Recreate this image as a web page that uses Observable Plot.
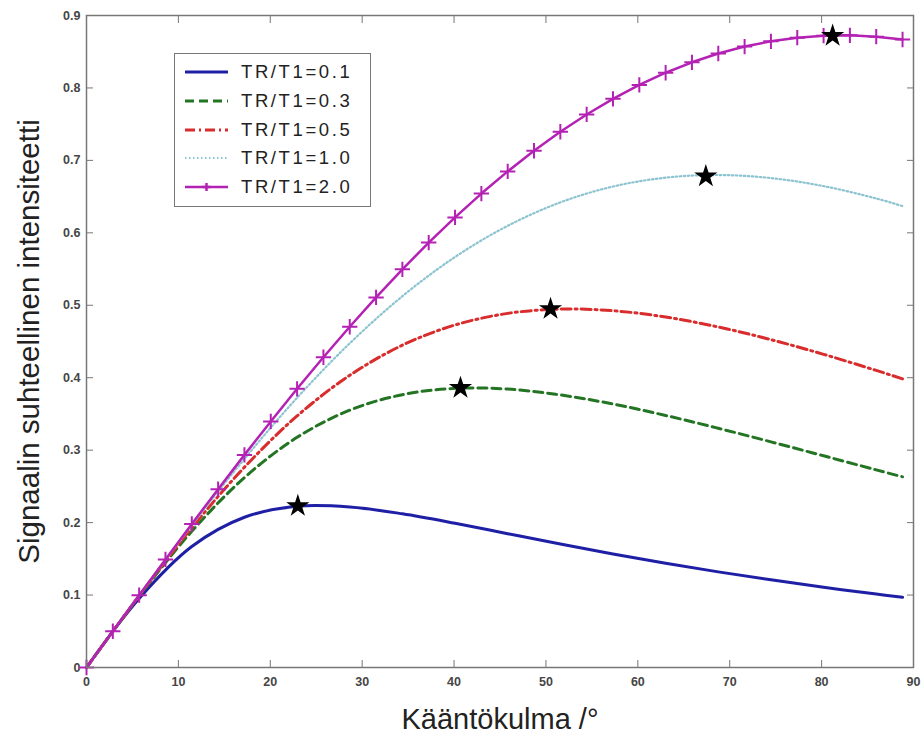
<!DOCTYPE html>
<html>
<head>
<meta charset="utf-8">
<script src="https://cdn.jsdelivr.net/npm/d3@7"></script>
<script src="https://cdn.jsdelivr.net/npm/@observablehq/plot@0.6"></script>
<style>
  body { margin: 0; background: white; }
  #wrap { position: relative; width: 922px; height: 742px; font-family: "Liberation Sans", Arial, sans-serif; }
  #legend { position: absolute; left: 174px; top: 53px; width: 195px; height: 148px; border: 1.5px solid #777; background: white; padding-top: 4px; box-sizing: content-box; }
  .row { display: flex; align-items: center; height: 28.7px; }
  .row svg { margin-left: 10px; margin-right: 13px; }
  .row span { font-size: 18.5px; letter-spacing: 2.6px; color: #222; }
</style>
</head>
<body>
<div id="wrap"></div>
<script>
// Flip angle samples (degrees)
const angleFine = [0, 2.865, 5.73, 8.594, 11.459, 14.324, 17.189, 20.054, 22.918, 25.783, 28.648, 31.513, 34.377, 37.242, 40.107, 42.972, 45.837, 48.701, 51.566, 54.431, 57.296, 60.161, 63.025, 65.89, 68.755, 71.62, 74.485, 77.349, 80.214, 83.079, 85.944, 88.808];
const angleCoarse = [0, 5.73, 11.459, 17.189, 22.918, 28.648, 34.377, 40.107, 45.837, 51.566, 57.296, 63.025, 68.755, 74.485, 80.214, 85.944, 88.808];

// Relative signal intensity per TR/T1
const signal01 = [0, 0.0953, 0.167, 0.2074, 0.2225, 0.2216, 0.2122, 0.1991, 0.1847, 0.1704, 0.1567, 0.1439, 0.132, 0.121, 0.1108, 0.1014, 0.097];
const signal03 = [0, 0.0984, 0.188, 0.2621, 0.3177, 0.3552, 0.3766, 0.3853, 0.3843, 0.3763, 0.3637, 0.3479, 0.3302, 0.3115, 0.2922, 0.2728, 0.2632];
const signal05 = [0, 0.0991, 0.1928, 0.2765, 0.3472, 0.4033, 0.4449, 0.4728, 0.4888, 0.4948, 0.4925, 0.4838, 0.47, 0.4526, 0.4323, 0.4101, 0.3984];
const signal10 = [0, 0.0995, 0.1964, 0.288, 0.3723, 0.4475, 0.5125, 0.5667, 0.6097, 0.642, 0.6639, 0.6762, 0.6798, 0.6756, 0.6645, 0.6474, 0.6369];
const signal20 = [0, 0.05, 0.0998, 0.1492, 0.1981, 0.2462, 0.2935, 0.3397, 0.3847, 0.4283, 0.4704, 0.5109, 0.5496, 0.5865, 0.6213, 0.6542, 0.6848, 0.7133, 0.7395, 0.7634, 0.785, 0.8042, 0.821, 0.8354, 0.8475, 0.8571, 0.8644, 0.8694, 0.8721, 0.8726, 0.8708, 0.8669];

// Maxima (Ernst angle) markers
const starAngle = [23.0, 40.7, 50.5, 67.4, 81.2];
const starSignal = [0.223, 0.386, 0.495, 0.678, 0.872];

const seriesNames = ["TR/T1=0.1", "TR/T1=0.3", "TR/T1=0.5", "TR/T1=1.0", "TR/T1=2.0"];
const seriesColors = ["#1f1fa6", "#237523", "#d92c2c", "#8cc3d0", "#b422b4"];
const seriesDash = [null, "9,5", "10,4,2,4", "1.5,2.5", null];
const seriesWidth = [3, 3, 3, 2.2, 2.5];

const xTicks = [0, 10, 20, 30, 40, 50, 60, 70, 80, 90];
const yTicks = [0, 0.1, 0.2, 0.3, 0.4, 0.5, 0.6, 0.7, 0.8, 0.9];

const xLabel = "Kääntökulma /°";
const yLabel = "Signaalin suhteellinen intensiteetti";

const zip = (xs, ys) => xs.map((x, i) => ({x, y: ys[i]}));
const coarseSeries = [signal01, signal03, signal05, signal10].map(s => zip(angleCoarse, s));
const fineSeries = zip(angleFine, signal20);
const stars = zip(starAngle, starSignal);

const lineMarks = coarseSeries.map((d, i) => Plot.line(d, {
  x: "x", y: "y", curve: "catmull-rom",
  stroke: seriesColors[i], strokeWidth: seriesWidth[i],
  strokeDasharray: seriesDash[i] || undefined
}));

const tickStyle = {fontSize: 12.5, fontWeight: "bold", fill: "#454545", stroke: "#777"};

const chart = Plot.plot({
  width: 922, height: 742,
  marginLeft: 86, marginRight: 9, marginTop: 15, marginBottom: 75,
  style: {fontFamily: "'Liberation Sans', Arial, sans-serif", background: "white", overflow: "visible"},
  x: {domain: [0, 90]},
  y: {domain: [0, 0.9]},
  marks: [
    Plot.axisX(xTicks, {anchor: "bottom", tickSize: -7, tickPadding: 17, label: null, tickFormat: d => String(d), ...tickStyle}),
    Plot.axisX(xTicks, {anchor: "top", tickSize: -7, fill: "none", stroke: "#777", label: null}),
    Plot.axisY(yTicks, {anchor: "left", tickSize: -7, tickPadding: 13, label: null, tickFormat: d => String(d), ...tickStyle}),
    Plot.axisY(yTicks, {anchor: "right", tickSize: -7, fill: "none", stroke: "#777", label: null}),
    ...lineMarks,
    Plot.line(fineSeries, {x: "x", y: "y", stroke: seriesColors[4], strokeWidth: seriesWidth[4]}),
    Plot.dot(fineSeries, {x: "x", y: "y", symbol: "plus", r: 5, stroke: seriesColors[4], strokeWidth: 2}),
    Plot.dot(stars, {x: "x", y: "y", symbol: "star", r: 7.3, fill: "black", stroke: "none"}),
    Plot.frame({stroke: "#777", strokeWidth: 1.5}),
    Plot.text([xLabel], {text: d => d, frameAnchor: "bottom", dy: 52, lineAnchor: "middle", textAnchor: "middle", fontSize: 29, fill: "#222"}),
    Plot.text([yLabel], {text: d => d, frameAnchor: "left", dx: -57, rotate: -90, lineAnchor: "middle", textAnchor: "middle", fontSize: 29.5, fill: "#222"})
  ]
});

const wrap = document.getElementById("wrap");
wrap.appendChild(chart);

// Legend
const legend = document.createElement("div");
legend.id = "legend";
seriesNames.forEach((name, i) => {
  const row = document.createElement("div");
  row.className = "row";
  const ns = "http://www.w3.org/2000/svg";
  const svg = document.createElementNS(ns, "svg");
  svg.setAttribute("width", 43);
  svg.setAttribute("height", 16);
  const line = document.createElementNS(ns, "line");
  line.setAttribute("x1", 0); line.setAttribute("x2", 43);
  line.setAttribute("y1", 8); line.setAttribute("y2", 8);
  line.setAttribute("stroke", seriesColors[i]);
  line.setAttribute("stroke-width", seriesWidth[i]);
  if (seriesDash[i]) line.setAttribute("stroke-dasharray", seriesDash[i]);
  svg.appendChild(line);
  if (i === 4) {
    const p1 = document.createElementNS(ns, "path");
    p1.setAttribute("d", "M21.5,4V12M17.5,8H25.5");
    p1.setAttribute("stroke", seriesColors[i]);
    p1.setAttribute("stroke-width", 2.5);
    svg.appendChild(p1);
  }
  const span = document.createElement("span");
  span.textContent = name;
  row.appendChild(svg);
  row.appendChild(span);
  legend.appendChild(row);
});
wrap.appendChild(legend);
</script>
</body>
</html>
